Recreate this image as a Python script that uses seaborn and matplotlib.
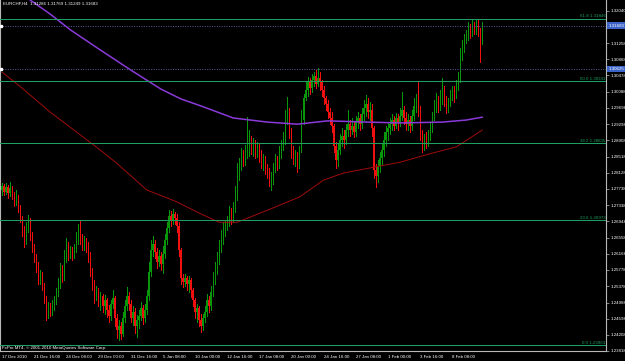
import numpy as np
import matplotlib
matplotlib.use("Agg")
import matplotlib.pyplot as plt
import matplotlib.transforms as mtransforms
import seaborn as sns

# ---------------- data ----------------
header_text = "EURCHF,H4  1.31286 1.31769 1.31249 1.31683"
copyright_text = "FxPro MT4, \u00a9 2001-2010 MetaQuotes Software Corp."

first_open = 1.2771
closes = [
    1.2780, 1.2766, 1.2778, 1.2764, 1.2776, 1.2759, 1.2747, 1.2754, 1.2728, 1.2703,
    1.2674, 1.2645, 1.2679, 1.2693, 1.2662, 1.2631, 1.2607, 1.2587, 1.2553, 1.2567,
    1.2538, 1.2510, 1.2471, 1.2490, 1.2476, 1.2493, 1.2505, 1.2524, 1.2543, 1.2577,
    1.2562, 1.2607, 1.2635, 1.2614, 1.2626, 1.2611, 1.2631, 1.2650, 1.2669, 1.2655,
    1.2640, 1.2650, 1.2635, 1.2611, 1.2577, 1.2543, 1.2514, 1.2529, 1.2505, 1.2514,
    1.2490, 1.2505, 1.2481, 1.2466, 1.2495, 1.2510, 1.2462, 1.2432, 1.2442, 1.2422,
    1.2462, 1.2490, 1.2514, 1.2495, 1.2462, 1.2476, 1.2442, 1.2457, 1.2466, 1.2486,
    1.2462, 1.2481, 1.2514, 1.2572, 1.2626, 1.2640, 1.2621, 1.2597, 1.2611, 1.2592,
    1.2616, 1.2650, 1.2679, 1.2707, 1.2698, 1.2712, 1.2703, 1.2683, 1.2626, 1.2558,
    1.2548, 1.2558, 1.2543, 1.2553, 1.2529, 1.2505, 1.2476, 1.2486, 1.2457, 1.2442,
    1.2462, 1.2476, 1.2505, 1.2490, 1.2524, 1.2553, 1.2583, 1.2602, 1.2635, 1.2655,
    1.2674, 1.2683, 1.2693, 1.2712, 1.2703, 1.2728, 1.2756, 1.2804, 1.2828, 1.2852,
    1.2838, 1.2862, 1.2877, 1.2892, 1.2867, 1.2882, 1.2862, 1.2873, 1.2852, 1.2833,
    1.2843, 1.2819, 1.2809, 1.2790, 1.2800, 1.2824, 1.2843, 1.2833, 1.2862, 1.2877,
    1.2892, 1.2940, 1.2959, 1.2911, 1.2867, 1.2843, 1.2852, 1.2838, 1.2867, 1.2940,
    1.2993, 1.3012, 1.3032, 1.3018, 1.3037, 1.3046, 1.3027, 1.3042, 1.3032, 1.3012,
    1.2993, 1.2978, 1.2959, 1.2945, 1.2925, 1.2877, 1.2843, 1.2867, 1.2892, 1.2901,
    1.2892, 1.2916, 1.2930, 1.2916, 1.2925, 1.2911, 1.2935, 1.2945, 1.2930, 1.2954,
    1.2969, 1.2978, 1.2959, 1.2964, 1.2921, 1.2819, 1.2804, 1.2828, 1.2848, 1.2867,
    1.2892, 1.2911, 1.2921, 1.2930, 1.2940, 1.2925, 1.2945, 1.2935, 1.2950, 1.2964,
    1.2945, 1.2930, 1.2940, 1.2925, 1.2950, 1.2974, 1.2988, 1.2964, 1.2906, 1.2873,
    1.2892, 1.2882, 1.2901, 1.2921, 1.2945, 1.2969, 1.2988, 1.2974, 1.2993, 1.3007,
    1.2988, 1.2969, 1.2983, 1.2997, 1.3007, 1.3002, 1.3022, 1.3042, 1.3094, 1.3114,
    1.3133, 1.3143, 1.3163, 1.3153, 1.3167, 1.3158, 1.3172, 1.3153, 1.31286, 1.31683,
]
highs = [
    1.2788, 1.2785, 1.2788, 1.2783, 1.2790, 1.2780, 1.2766, 1.2771, 1.2759, 1.2735,
    1.2707, 1.2683, 1.2693, 1.2710, 1.2703, 1.2669, 1.2640, 1.2616, 1.2597, 1.2577,
    1.2572, 1.2546, 1.2514, 1.2500, 1.2498, 1.2505, 1.2514, 1.2534, 1.2558, 1.2595,
    1.2590, 1.2626, 1.2655, 1.2645, 1.2635, 1.2633, 1.2640, 1.2669, 1.2688, 1.2696,
    1.2664, 1.2659, 1.2655, 1.2645, 1.2621, 1.2583, 1.2553, 1.2538, 1.2534, 1.2524,
    1.2519, 1.2517, 1.2510, 1.2493, 1.2505, 1.2529, 1.2514, 1.2471, 1.2457, 1.2452,
    1.2476, 1.2505, 1.2536, 1.2524, 1.2505, 1.2490, 1.2486, 1.2469, 1.2481, 1.2500,
    1.2493, 1.2495, 1.2529, 1.2597, 1.2650, 1.2659, 1.2650, 1.2631, 1.2626, 1.2621,
    1.2635, 1.2664, 1.2693, 1.2722, 1.2720, 1.2725, 1.2717, 1.2712, 1.2693, 1.2631,
    1.2567, 1.2567, 1.2562, 1.2562, 1.2558, 1.2534, 1.2510, 1.2495, 1.2490, 1.2471,
    1.2471, 1.2490, 1.2519, 1.2514, 1.2538, 1.2572, 1.2597, 1.2621, 1.2650, 1.2674,
    1.2693, 1.2698, 1.2707, 1.2732, 1.2728, 1.2742, 1.2780, 1.2836, 1.2848, 1.2873,
    1.2867, 1.2880, 1.2947, 1.2916, 1.2901, 1.2897, 1.2892, 1.2887, 1.2882, 1.2867,
    1.2857, 1.2852, 1.2833, 1.2824, 1.2814, 1.2836, 1.2857, 1.2852, 1.2877, 1.2892,
    1.2911, 1.2964, 1.2995, 1.2969, 1.2921, 1.2877, 1.2867, 1.2862, 1.2877, 1.2964,
    1.3002, 1.3032, 1.3044, 1.3042, 1.3051, 1.3056, 1.3061, 1.3066, 1.3056, 1.3037,
    1.3022, 1.2997, 1.2988, 1.2969, 1.2959, 1.2930, 1.2887, 1.2882, 1.2906, 1.2921,
    1.2916, 1.2930, 1.2964, 1.2940, 1.2945, 1.2935, 1.2950, 1.2959, 1.2954, 1.2969,
    1.2988, 1.3000, 1.2993, 1.2983, 1.2978, 1.2925, 1.2833, 1.2843, 1.2862, 1.2882,
    1.2911, 1.2925, 1.2935, 1.2945, 1.2954, 1.2950, 1.2957, 1.2954, 1.2969, 1.3007,
    1.2974, 1.2959, 1.2954, 1.2950, 1.2964, 1.2993, 1.3002, 1.3032, 1.2974, 1.2916,
    1.2906, 1.2911, 1.2916, 1.2935, 1.2959, 1.2988, 1.3005, 1.2997, 1.3012, 1.3042,
    1.3022, 1.2997, 1.2993, 1.3012, 1.3022, 1.3022, 1.3037, 1.3056, 1.3114, 1.3133,
    1.3148, 1.3158, 1.3177, 1.3172, 1.3182, 1.3177, 1.3184, 1.3182, 1.3163, 1.31769,
]
lows = [
    1.2759, 1.2759, 1.2761, 1.2752, 1.2756, 1.2749, 1.2732, 1.2735, 1.2717, 1.2693,
    1.2659, 1.2633, 1.2640, 1.2669, 1.2650, 1.2621, 1.2597, 1.2572, 1.2543, 1.2543,
    1.2529, 1.2498, 1.2457, 1.2462, 1.2466, 1.2469, 1.2481, 1.2495, 1.2514, 1.2534,
    1.2548, 1.2553, 1.2597, 1.2602, 1.2607, 1.2602, 1.2607, 1.2621, 1.2640, 1.2640,
    1.2626, 1.2626, 1.2621, 1.2597, 1.2562, 1.2529, 1.2498, 1.2505, 1.2490, 1.2481,
    1.2476, 1.2471, 1.2464, 1.2452, 1.2457, 1.2486, 1.2442, 1.2413, 1.2408, 1.2410,
    1.2417, 1.2452, 1.2481, 1.2481, 1.2452, 1.2445, 1.2425, 1.2415, 1.2438, 1.2457,
    1.2447, 1.2452, 1.2471, 1.2505, 1.2562, 1.2611, 1.2607, 1.2583, 1.2587, 1.2577,
    1.2570, 1.2607, 1.2640, 1.2669, 1.2683, 1.2688, 1.2688, 1.2669, 1.2611, 1.2543,
    1.2536, 1.2538, 1.2529, 1.2524, 1.2512, 1.2490, 1.2462, 1.2452, 1.2442, 1.2427,
    1.2432, 1.2452, 1.2466, 1.2476, 1.2481, 1.2514, 1.2543, 1.2567, 1.2592, 1.2621,
    1.2640, 1.2659, 1.2674, 1.2683, 1.2688, 1.2693, 1.2717, 1.2747, 1.2795, 1.2819,
    1.2828, 1.2831, 1.2848, 1.2852, 1.2857, 1.2852, 1.2848, 1.2850, 1.2838, 1.2824,
    1.2819, 1.2809, 1.2800, 1.2780, 1.2771, 1.2785, 1.2814, 1.2819, 1.2824, 1.2848,
    1.2867, 1.2882, 1.2930, 1.2897, 1.2848, 1.2833, 1.2828, 1.2814, 1.2824, 1.2862,
    1.2930, 1.2988, 1.2997, 1.3002, 1.3007, 1.3022, 1.3018, 1.3022, 1.3012, 1.2997,
    1.2978, 1.2964, 1.2945, 1.2930, 1.2911, 1.2862, 1.2824, 1.2828, 1.2857, 1.2877,
    1.2873, 1.2882, 1.2901, 1.2901, 1.2906, 1.2899, 1.2901, 1.2921, 1.2916, 1.2921,
    1.2940, 1.2950, 1.2945, 1.2940, 1.2901, 1.2800, 1.2778, 1.2790, 1.2814, 1.2833,
    1.2852, 1.2877, 1.2892, 1.2906, 1.2916, 1.2916, 1.2921, 1.2916, 1.2925, 1.2940,
    1.2930, 1.2916, 1.2916, 1.2911, 1.2916, 1.2940, 1.2959, 1.2950, 1.2892, 1.2862,
    1.2867, 1.2873, 1.2877, 1.2892, 1.2911, 1.2940, 1.2959, 1.2959, 1.2964, 1.2978,
    1.2974, 1.2957, 1.2959, 1.2974, 1.2988, 1.2983, 1.2993, 1.3012, 1.3032, 1.3085,
    1.3104, 1.3126, 1.3133, 1.3138, 1.3143, 1.3148, 1.3148, 1.3143, 1.3080, 1.31249,
]

# moving averages read at a few bars
ma_purple_bars = [0, 14, 24, 34, 49, 64, 79, 89, 99, 115, 132, 147, 162, 182, 198, 219, 231, 239]
ma_purple_vals = [1.3278, 1.3230, 1.3196, 1.3158, 1.3109, 1.3061, 1.3015, 1.2991, 1.2974,
                  1.2945, 1.2935, 1.2930, 1.2938, 1.2935, 1.2933, 1.2935, 1.2940, 1.2947]
ma_red_bars = [0, 10, 24, 39, 49, 57, 72, 82, 87, 99, 108, 117, 132, 148, 160, 170, 185, 198, 214, 226, 239]
ma_red_vals = [1.3056, 1.3017, 1.2959, 1.2904, 1.2867, 1.2836, 1.2771, 1.2752, 1.2742, 1.2713,
               1.2693, 1.2693, 1.2722, 1.2754, 1.2795, 1.2812, 1.2826, 1.2838, 1.2860, 1.2875, 1.2916]

fib_levels = ["0.0", "23.6", "38.2", "50.0", "61.8"]
fib_prices = [1.23963, 1.26973, 1.28835, 1.30341, 1.31846]

bid_price = 1.31683
hline_price = 1.30625

time_labels = ["17 Dec 2010", "21 Dec 16:00", "24 Dec 08:00", "29 Dec 00:00", "31 Dec 16:00",
               "5 Jan 08:00", "10 Jan 00:00", "12 Jan 16:00", "17 Jan 08:00", "20 Jan 00:00",
               "24 Jan 16:00", "27 Jan 08:00", "1 Feb 00:00", "3 Feb 16:00", "8 Feb 08:00"]
bars_per_label = 16

# visible price scale labels (the one behind the bid box is hidden in the reference)
price_labels = ["1.32040", "1.31258", "1.30868", "1.30478", "1.30088", "1.29698",
                "1.29298", "1.28908", "1.28518", "1.28128", "1.27738", "1.27338", "1.26948",
                "1.26558", "1.26168", "1.25778", "1.25378", "1.24988", "1.24598", "1.24208",
                "1.23818"]

# ---------------- style ----------------
sns.set_theme(style="dark", rc={"axes.facecolor": "black", "figure.facecolor": "black",
                                "axes.grid": False})
plt.rcParams['font.family'] = ['Liberation Sans', 'DejaVu Sans']

BULL = "#0a960a"
BEAR = "#f01010"
FIB = "#1fa060"
GRAY = "#b8b8b8"
FS = 3.2

fig = plt.figure(figsize=(6.25, 3.61), dpi=100)
ax = fig.add_axes([0, 10 / 361, 606 / 625, 351 / 361])
ax.set_facecolor("black")

c = np.array(closes)
o = np.array([first_open] + closes[:-1])
h = np.maximum(np.array(highs), np.maximum(o, c))
l = np.minimum(np.array(lows), np.minimum(o, c))
x = np.arange(len(c))
cols = np.where(c >= o, BULL, BEAR)

ax.vlines(x, l, h, colors=cols, linewidth=0.5, zorder=3, antialiased=False)
ax.bar(x, np.maximum(np.abs(c - o), 0.00010), bottom=np.minimum(o, c), width=0.55,
       color=cols, linewidth=0, zorder=4, antialiased=False)

sns.lineplot(x=ma_purple_bars, y=ma_purple_vals, ax=ax, color="#8a3ad8", linewidth=1.1,
             zorder=5, legend=False)
sns.lineplot(x=ma_red_bars, y=ma_red_vals, ax=ax, color="#a00c0c", linewidth=0.7,
             zorder=5, legend=False)

x_right = 300.3
for lev, p in zip(fib_levels, fib_prices):
    ax.axhline(p, color=FIB, linewidth=0.5, zorder=6, antialiased=False)
    ax.text(x_right, p + 0.00012, f"{lev} {p:.5f}", color=FIB, fontsize=FS,
            ha="right", va="bottom", zorder=7)

for p in (bid_price, hline_price):
    ax.axhline(p, color="#5a5a96", linewidth=0.7, linestyle=(0, (1, 1.5)), zorder=6)
    ax.plot([-0.3], [p], marker="s", ms=1.4, color="white", zorder=7, clip_on=False)

ax.set_xlim(-1.0, 300.5)
ax.set_ylim(1.23818, 1.32301)

# axes / ticks
ax.set_xticks(np.arange(len(time_labels)) * bars_per_label)
ax.set_xticklabels(time_labels, ha="left")
ax.yaxis.tick_right()
ax.set_yticks([float(s) for s in price_labels])
ax.set_yticklabels(price_labels)
ax.tick_params(axis="both", which="both", length=2, width=0.5, color=GRAY,
               labelcolor="white", labelsize=FS, pad=1)
ax.set_xlabel("")
ax.set_ylabel("")
for side in ("right", "bottom", "left"):
    ax.spines[side].set_color(GRAY)
    ax.spines[side].set_linewidth(0.8)
ax.spines["top"].set_visible(False)

trans = mtransforms.blended_transform_factory(ax.transAxes, ax.transData)
for p in (bid_price, hline_price):
    ax.text(1.004, p, f"{p:.5f}", transform=trans, color="white", fontsize=FS, ha="left",
            va="center", clip_on=False, zorder=20,
            bbox=dict(boxstyle="square,pad=0.25", fc="#3c64c8", ec="none"))

ax.text(0.005, 0.995, header_text, transform=ax.transAxes, color="white", fontsize=FS,
        ha="left", va="top", zorder=10)
ax.text(0.004, 0.003, copyright_text, transform=ax.transAxes, color="white", fontsize=FS,
        ha="left", va="bottom", zorder=10)

fig.savefig("out.png", dpi=100, facecolor="black")
